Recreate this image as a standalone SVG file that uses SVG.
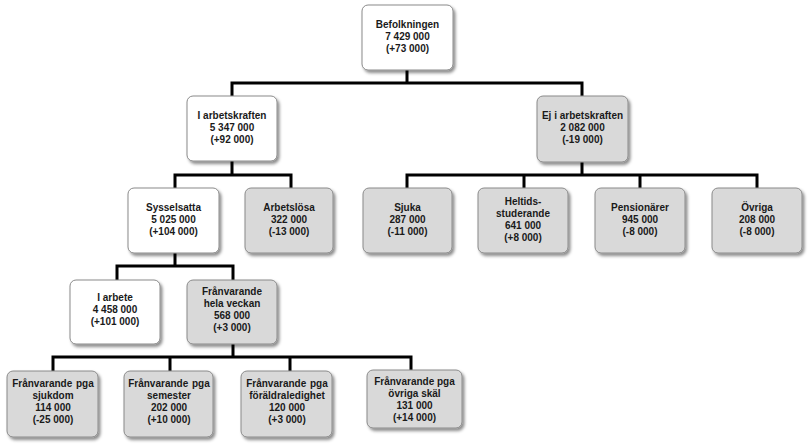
<svg xmlns="http://www.w3.org/2000/svg" width="810" height="446" viewBox="0 0 810 446">
<style>
.bw{fill:#ffffff;stroke:#8a8a8a;stroke-width:1}
.bg{fill:#d9d9d9;stroke:#8a8a8a;stroke-width:1}
.t{font-family:"Liberation Sans",Arial,sans-serif;font-weight:bold;font-size:10px;fill:#1a1a1a;text-anchor:middle}
.c{fill:none;stroke:#000;stroke-width:3;stroke-linejoin:miter}
</style>
<defs>
<filter id="sh" x="-10%" y="-10%" width="130%" height="140%">
<feDropShadow dx="2" dy="2.5" stdDeviation="1.5" flood-color="#000" flood-opacity="0.45"/>
</filter>
</defs>
<rect width="810" height="446" fill="#ffffff"/>
<g id="connectors">
<path class="c" d="M407 70 V83 M232 96 V83 H582 V96"/>
<path class="c" d="M232 161 V175 M175 188 V175 H291 V188"/>
<path class="c" d="M582 162 V175 M407 188 V175 H757 V188 M524 175 V188 M640 175 V188"/>
<path class="c" d="M175 253 V266 M117 280 V266 H233 V280"/>
<path class="c" d="M233 344 V357 M53 371 V357 H411 V370 M170 357 V371 M290 357 V371"/>
</g>
<g id="befolkningen">
<rect class="bw" x="362" y="5" width="91" height="65" rx="6" filter="url(#sh)"/>
<text class="t" x="407.5" y="27.5">Befolkningen</text>
<text class="t" x="407.5" y="39.5">7 429 000</text>
<text class="t" x="407.5" y="51.5">(+73 000)</text>
</g>
<g id="i_arbetskraften">
<rect class="bw" x="187" y="96" width="90" height="65" rx="6" filter="url(#sh)"/>
<text class="t" x="232" y="118.5">I arbetskraften</text>
<text class="t" x="232" y="130.5">5 347 000</text>
<text class="t" x="232" y="142.5">(+92 000)</text>
</g>
<g id="ej_i_arbetskraften">
<rect class="bg" x="537" y="96" width="91" height="66" rx="6" filter="url(#sh)"/>
<text class="t" x="582.5" y="118.5">Ej i arbetskraften</text>
<text class="t" x="582.5" y="130.5">2 082 000</text>
<text class="t" x="582.5" y="142.5">(-19 000)</text>
</g>
<g id="sysselsatta">
<rect class="bw" x="128" y="188" width="91" height="65" rx="6" filter="url(#sh)"/>
<text class="t" x="173.5" y="211">Sysselsatta</text>
<text class="t" x="173.5" y="223">5 025 000</text>
<text class="t" x="173.5" y="235">(+104 000)</text>
</g>
<g id="arbetslosa">
<rect class="bg" x="245" y="188" width="88" height="65" rx="6" filter="url(#sh)"/>
<text class="t" x="289" y="211">Arbetslösa</text>
<text class="t" x="289" y="223">322 000</text>
<text class="t" x="289" y="235">(-13 000)</text>
</g>
<g id="sjuka">
<rect class="bg" x="363" y="188" width="89" height="65" rx="6" filter="url(#sh)"/>
<text class="t" x="407.5" y="211">Sjuka</text>
<text class="t" x="407.5" y="223">287 000</text>
<text class="t" x="407.5" y="235">(-11 000)</text>
</g>
<g id="heltidsstuderande">
<rect class="bg" x="478" y="188" width="90" height="65" rx="6" filter="url(#sh)"/>
<text class="t" x="523" y="205">Heltids-</text>
<text class="t" x="523" y="217">studerande</text>
<text class="t" x="523" y="229">641 000</text>
<text class="t" x="523" y="241">(+8 000)</text>
</g>
<g id="pensionarer">
<rect class="bg" x="595" y="188" width="90" height="65" rx="6" filter="url(#sh)"/>
<text class="t" x="640" y="211">Pensionärer</text>
<text class="t" x="640" y="223">945 000</text>
<text class="t" x="640" y="235">(-8 000)</text>
</g>
<g id="ovriga">
<rect class="bg" x="712" y="188" width="90" height="65" rx="6" filter="url(#sh)"/>
<text class="t" x="757" y="211">Övriga</text>
<text class="t" x="757" y="223">208 000</text>
<text class="t" x="757" y="235">(-8 000)</text>
</g>
<g id="i_arbete">
<rect class="bw" x="70" y="280" width="90" height="64" rx="6" filter="url(#sh)"/>
<text class="t" x="115" y="300.5">I arbete</text>
<text class="t" x="115" y="312.5">4 458 000</text>
<text class="t" x="115" y="324.5">(+101 000)</text>
</g>
<g id="franvarande_hela_veckan">
<rect class="bg" x="187" y="280" width="90" height="64" rx="6" filter="url(#sh)"/>
<text class="t" x="232" y="295">Frånvarande</text>
<text class="t" x="232" y="307">hela veckan</text>
<text class="t" x="232" y="319">568 000</text>
<text class="t" x="232" y="331">(+3 000)</text>
</g>
<g id="franvarande_sjukdom">
<rect class="bg" x="7" y="371" width="91" height="66" rx="6" filter="url(#sh)"/>
<text class="t" x="53" y="386.5" word-spacing="1">Frånvarande pga</text>
<text class="t" x="53" y="398.5">sjukdom</text>
<text class="t" x="53" y="410.5">114 000</text>
<text class="t" x="53" y="422.5">(-25 000)</text>
</g>
<g id="franvarande_semester">
<rect class="bg" x="124" y="371" width="89" height="66" rx="6" filter="url(#sh)"/>
<text class="t" x="169" y="386.5" word-spacing="1">Frånvarande pga</text>
<text class="t" x="169" y="398.5">semester</text>
<text class="t" x="169" y="410.5">202 000</text>
<text class="t" x="169" y="422.5">(+10 000)</text>
</g>
<g id="franvarande_foraldraledighet">
<rect class="bg" x="241" y="371" width="91" height="66" rx="6" filter="url(#sh)"/>
<text class="t" x="287" y="386.5" word-spacing="1">Frånvarande pga</text>
<text class="t" x="287" y="398.5">föräldraledighet</text>
<text class="t" x="287" y="410.5">120 000</text>
<text class="t" x="287" y="422.5">(+3 000)</text>
</g>
<g id="franvarande_ovriga_skal">
<rect class="bg" x="367" y="370" width="95" height="58" rx="6" filter="url(#sh)"/>
<text class="t" x="414.5" y="385">Frånvarande pga</text>
<text class="t" x="414.5" y="397">övriga skäl</text>
<text class="t" x="414.5" y="409">131 000</text>
<text class="t" x="414.5" y="421">(+14 000)</text>
</g>
</svg>
